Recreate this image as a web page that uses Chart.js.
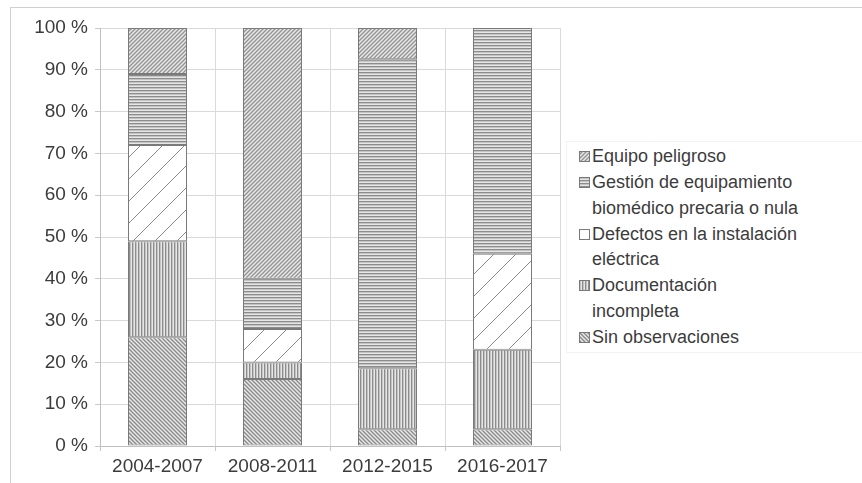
<!DOCTYPE html>
<html>
<head>
<meta charset="utf-8">
<script src="https://cdn.jsdelivr.net/npm/chart.js@4.4.0/dist/chart.umd.min.js"></script>
<style>
  html, body { margin: 0; padding: 0; background: #fff; }
  body { width: 862px; height: 483px; position: relative; overflow: hidden; font-family: "Liberation Sans", Arial, sans-serif; }
  #frame { position: absolute; left: 10px; top: 7px; right: -2px; bottom: -2px; border-left: 1px solid #cfcfcf; border-top: 1px solid #cfcfcf; }
  #wrap { position: absolute; left: 0; top: 0; width: 562px; height: 483px; }
  #legend { position: absolute; left: 566px; top: 141px; width: 300px; height: 212px; border: 1px solid #f3f3f3; box-sizing: border-box; }
  .item { position: absolute; left: 12px; font-size: 18px; color: #3c3c3c; line-height: 25.5px; }
  .item canvas { position: absolute; left: 0; top: 7px; }
  .item span { display: block; margin-left: 13px; white-space: nowrap; }
</style>
</head>
<body>
<div id="frame"></div>
<div id="wrap"><canvas id="c" width="562" height="483"></canvas></div>
<div id="legend"></div>
<script>
const categories = ["2004-2007", "2008-2011", "2012-2015", "2016-2017"];
const sinObservaciones = [26, 16, 4, 4];
const documentacion = [23, 4, 14.6, 19];
const defectos = [23, 8, 0, 23];
const gestion = [17, 12, 73.9, 54];
const equipo = [11, 60, 7.5, 0];
const yTicks = [0, 10, 20, 30, 40, 50, 60, 70, 80, 90, 100];
const legendLines = [
  ["Equipo peligroso"],
  ["Gestión de equipamiento", "biomédico precaria o nula"],
  ["Defectos en la instalación", "eléctrica"],
  ["Documentación", "incompleta"],
  ["Sin observaciones"]
];

function makePattern(kind) {
  const t = document.createElement('canvas');
  const x = t.getContext('2d');
  let s;
  if (kind === 'fwd' || kind === 'back') {
    s = 4; t.width = s; t.height = s;
    x.fillStyle = '#e8e8e8'; x.fillRect(0, 0, s, s);
    x.strokeStyle = kind === 'back' ? '#888888' : '#929292';
    x.lineWidth = 1.3;
    x.beginPath();
    if (kind === 'fwd') {
      x.moveTo(-1, s + 1); x.lineTo(s + 1, -1);
      x.moveTo(-1, 1); x.lineTo(1, -1);
      x.moveTo(s - 1, s + 1); x.lineTo(s + 1, s - 1);
    } else {
      x.moveTo(-1, -1); x.lineTo(s + 1, s + 1);
      x.moveTo(-1, s - 1); x.lineTo(1, s + 1);
      x.moveTo(s - 1, -1); x.lineTo(s + 1, 1);
    }
    x.stroke();
  } else if (kind === 'horiz') {
    t.width = 4; t.height = 3;
    x.fillStyle = '#e6e6e6'; x.fillRect(0, 0, 4, 3);
    x.fillStyle = '#8c8c8c'; x.fillRect(0, 0, 4, 1);
    x.fillStyle = '#c4c4c4'; x.fillRect(0, 1, 4, 1);
  } else if (kind === 'vert') {
    t.width = 3; t.height = 4;
    x.fillStyle = '#e6e6e6'; x.fillRect(0, 0, 3, 4);
    x.fillStyle = '#8c8c8c'; x.fillRect(0, 0, 1, 4);
    x.fillStyle = '#c4c4c4'; x.fillRect(1, 0, 1, 4);
  } else if (kind === 'wide') {
    s = 22; t.width = s; t.height = s;
    x.fillStyle = '#ffffff'; x.fillRect(0, 0, s, s);
    x.strokeStyle = '#8a8a8a'; x.lineWidth = 1;
    x.beginPath();
    x.moveTo(-2, s + 2); x.lineTo(s + 2, -2);
    x.stroke();
  } else {
    t.width = 2; t.height = 2;
    x.fillStyle = '#fff'; x.fillRect(0, 0, 2, 2);
  }
  return x.createPattern(t, 'repeat');
}

const ctx = document.getElementById('c').getContext('2d');
const pSin = makePattern('back');
const pDoc = makePattern('vert');
const pDef = makePattern('wide');
const pGes = makePattern('horiz');
const pEq = makePattern('fwd');

const common = { borderColor: '#7a7a7a', borderWidth: 1, barPercentage: 0.513, categoryPercentage: 1.0, borderSkipped: false };
const tickFont = { family: 'Liberation Sans', size: 19 };

new Chart(ctx, {
  type: 'bar',
  data: {
    labels: categories,
    datasets: [
      Object.assign({ label: 'Sin observaciones', data: sinObservaciones, backgroundColor: pSin }, common),
      Object.assign({ label: 'Documentación incompleta', data: documentacion, backgroundColor: pDoc }, common),
      Object.assign({ label: 'Defectos en la instalación eléctrica', data: defectos, backgroundColor: pDef }, common),
      Object.assign({ label: 'Gestión de equipamiento biomédico precaria o nula', data: gestion, backgroundColor: pGes }, common),
      Object.assign({ label: 'Equipo peligroso', data: equipo, backgroundColor: pEq }, common)
    ]
  },
  options: {
    responsive: false,
    animation: false,
    layout: { padding: { top: 28, right: 2, bottom: 0, left: 0 } },
    plugins: { legend: { display: false }, tooltip: { enabled: false } },
    scales: {
      x: {
        stacked: true,
        offset: true,
        grid: { offset: true, color: '#dadada', lineWidth: 1, tickLength: 5, tickColor: '#c8c8c8' },
        border: { color: '#c0c0c0' },
        ticks: { color: '#3c3c3c', font: tickFont, padding: 4, maxRotation: 0 },
        afterFit: (s) => { s.height = 37; }
      },
      y: {
        stacked: true,
        min: 0, max: 100,
        afterBuildTicks: (s) => { s.ticks = yTicks.map(v => ({ value: v })); },
        grid: { color: '#dadada', lineWidth: 1, tickLength: 5, tickColor: '#c8c8c8' },
        border: { color: '#c0c0c0' },
        ticks: { color: '#3c3c3c', font: tickFont, padding: 7, callback: (v) => v + ' %' },
        afterFit: (s) => { s.width = 100; }
      }
    }
  }
});

// HTML legend
const legendKinds = ['fwd', 'horiz', null, 'vert', 'back'];
const legendBox = document.getElementById('legend');
let posY = 2;
legendLines.forEach((lines, i) => {
  const d = document.createElement('div');
  d.className = 'item';
  d.style.top = posY + 'px';
  const sw = document.createElement('canvas');
  sw.width = 11; sw.height = 11;
  const sc = sw.getContext('2d');
  sc.fillStyle = legendKinds[i] ? makePattern(legendKinds[i]) : '#fff';
  sc.fillRect(0, 0, 11, 11);
  sc.strokeStyle = '#7a7a7a'; sc.lineWidth = 1;
  sc.strokeRect(0.5, 0.5, 10, 10);
  d.appendChild(sw);
  lines.forEach(l => { const sp = document.createElement('span'); sp.textContent = l; d.appendChild(sp); });
  legendBox.appendChild(d);
  posY += lines.length * 25.5 + 0.5;
});
</script>
</body>
</html>
